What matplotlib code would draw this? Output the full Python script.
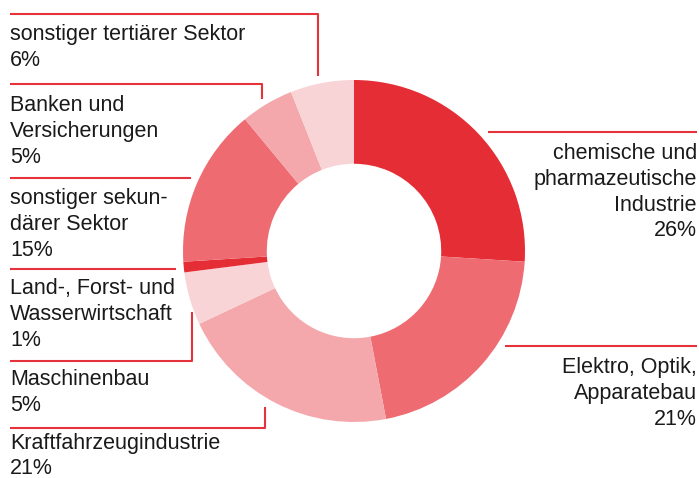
import matplotlib
matplotlib.use("Agg")
import matplotlib.pyplot as plt

plt.rcParams["font.family"] = ["Liberation Sans", "DejaVu Sans"]

# Anteile in Prozent, im Uhrzeigersinn ab 12 Uhr
branchen = [
    "chemische und\npharmazeutische\nIndustrie",
    "Elektro, Optik,\nApparatebau",
    "Kraftfahrzeugindustrie",
    "Maschinenbau",
    "Land-, Forst- und\nWasserwirtschaft",
    "sonstiger sekun-\ndärer Sektor",
    "Banken und\nVersicherungen",
    "sonstiger tertiärer Sektor",
]
anteile = [26, 21, 21, 5, 1, 15, 5, 6]
farben = ["#e52d35", "#ee6b72", "#f4a8ac", "#f9d4d6",
          "#e52d35", "#ee6b72", "#f4a8ac", "#f9d4d6"]

W, H = 699, 478
ROT = "#e5323b"

fig = plt.figure(figsize=(W / 100, H / 100), dpi=100)
ax = fig.add_axes([0, 0, 1, 1])

cx, cy, r = 354, H - 251, 171
ax.pie(anteile, colors=farben, startangle=90, counterclock=False,
       radius=r, center=(cx, cy), frame=True,
       wedgeprops=dict(width=r * 0.49, linewidth=0))
ax.set_xlim(0, W)
ax.set_ylim(0, H)
ax.set_aspect("equal")
ax.axis("off")


def linie(punkte):
    xs = [p[0] for p in punkte]
    ys = [H - p[1] for p in punkte]
    ax.plot(xs, ys, color=ROT, lw=1.5, solid_capstyle="butt")


# Führungslinien (Pixelkoordinaten)
linie([(10, 14), (318, 14), (318, 76)])
linie([(10, 84), (262, 84), (262, 99)])
linie([(10, 178), (191, 178)])
linie([(10, 269), (176, 269)])
linie([(10, 361), (192, 361), (192, 312)])
linie([(10, 428), (265, 428), (265, 407)])
linie([(488, 132), (697, 132)])
linie([(505, 346), (697, 346)])

# Beschriftungen: (x, Mitte der ersten Zeile, Ausrichtung)
pos = [
    (697, 151, "right"),
    (697, 365, "right"),
    (10, 441, "left"),
    (10, 377, "left"),
    (10, 286, "left"),
    (10, 196, "left"),
    (10, 103, "left"),
    (10, 32, "left"),
]
zeile = 25.8
for name, wert, (x, y, ha) in zip(branchen, anteile, pos):
    zeilen = (name + f"\n{wert}%").split("\n")
    # letzte Beschriftung am unteren Rand etwas enger setzen
    dz = 24.5 if y > 430 else zeile
    for i, t in enumerate(zeilen):
        ax.text(x, H - (y + i * dz), t, ha=ha, va="center_baseline",
                fontsize=15.5, color="#1a1a1a")

fig.savefig("out.png", dpi=100)
plt.close(fig)
